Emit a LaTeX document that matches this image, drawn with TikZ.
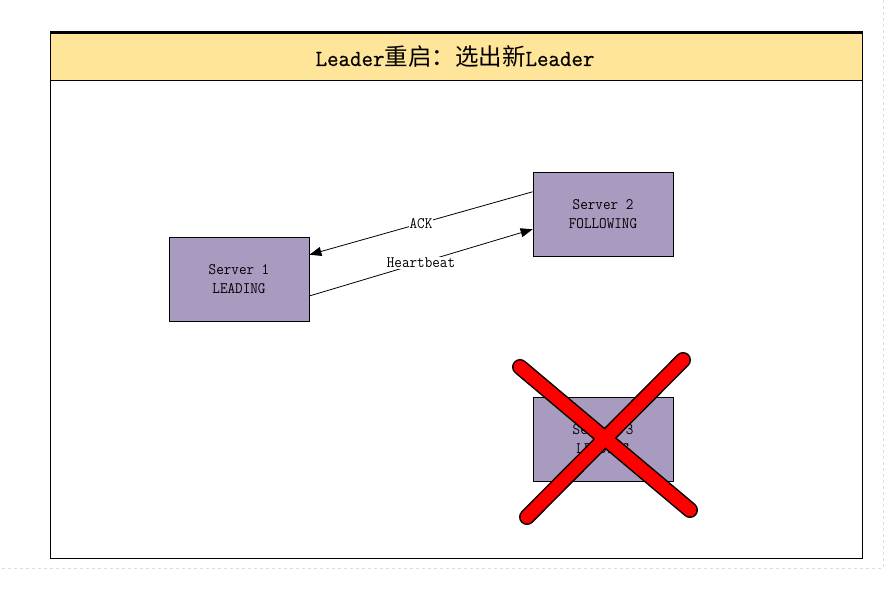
\documentclass[tikz,border=0pt]{standalone}
\usepackage{fontspec}
\usetikzlibrary{arrows.meta,calc}
\newfontfamily\cjk{Noto Sans CJK SC}
\newfontfamily\narrowmono[FakeStretch=0.92]{Latin Modern Mono}
\newfontfamily\titlemono[FakeStretch=0.97,FakeBold=0.6]{Latin Modern Mono}
\definecolor{titlefill}{HTML}{FFE599}
\definecolor{srvfill}{HTML}{A99BBF}
\definecolor{pagedash}{HTML}{DDDDDD}
\tikzset{
  srv/.style={draw=black, line width=0.8pt, fill=srvfill, minimum width=140pt, minimum height=84pt,
    inner sep=0pt, align=center, font=\narrowmono\fontsize{16}{19}\selectfont},
  msg/.style={draw=black, line width=0.8pt, -{Triangle[length=12pt,width=9pt]}},
  msglabel/.style={fill=white, inner sep=1pt, font=\narrowmono\fontsize{16}{18}\selectfont},
  crossout/.style={line cap=round, line width=16pt, draw=black},
  crossin/.style={line cap=round, line width=13pt, draw=red},
}
\begin{document}
\begin{tikzpicture}[x=1pt,y=-1pt]
\useasboundingbox (0,0) rectangle (890,588);
\fill[white] (0,0) rectangle (890,588);
% page edge
\draw[pagedash, dashed, line width=0.8pt] (883,0) -- (883,568) -- (0,568);
% frame
\fill[titlefill] (50,32) rectangle (862,81);
\draw[line width=1pt] (50,32) rectangle (862,558);
\draw[line width=2pt] (50,33) -- (862,33);
\draw[line width=1pt] (50,81) -- (862,81);
\node[inner sep=0pt] (title) at (455,57)
  {{\titlemono\fontsize{23}{26}\selectfont Leader}{\cjk\fontsize{23.5}{26}\selectfont 重启：选出新}{\titlemono\fontsize{23}{26}\selectfont Leader}};
% servers
\node[srv] (s1) at (239,279) {Server 1\\LEADING};
\node[srv] (s2) at (603,214) {Server 2\\FOLLOWING};
\node[srv] (s3) at (603,439) {Server 3\\LEADING};
% messages
\draw[msg] ($(s2.north west)!0.238!(s2.south west)$) -- node[msglabel]{ACK} ($(s1.north east)!0.214!(s1.south east)$);
\draw[msg] ($(s1.north east)!0.70!(s1.south east)$) -- node[msglabel]{Heartbeat} ($(s2.north west)!0.68!(s2.south west)$);
% cross
\draw[crossout] (520,367) -- (690,510);
\draw[crossout] (527,517) -- (683,360);
\draw[crossin] (520,367) -- (690,510);
\draw[crossin] (527,517) -- (683,360);
\end{tikzpicture}
\end{document}
